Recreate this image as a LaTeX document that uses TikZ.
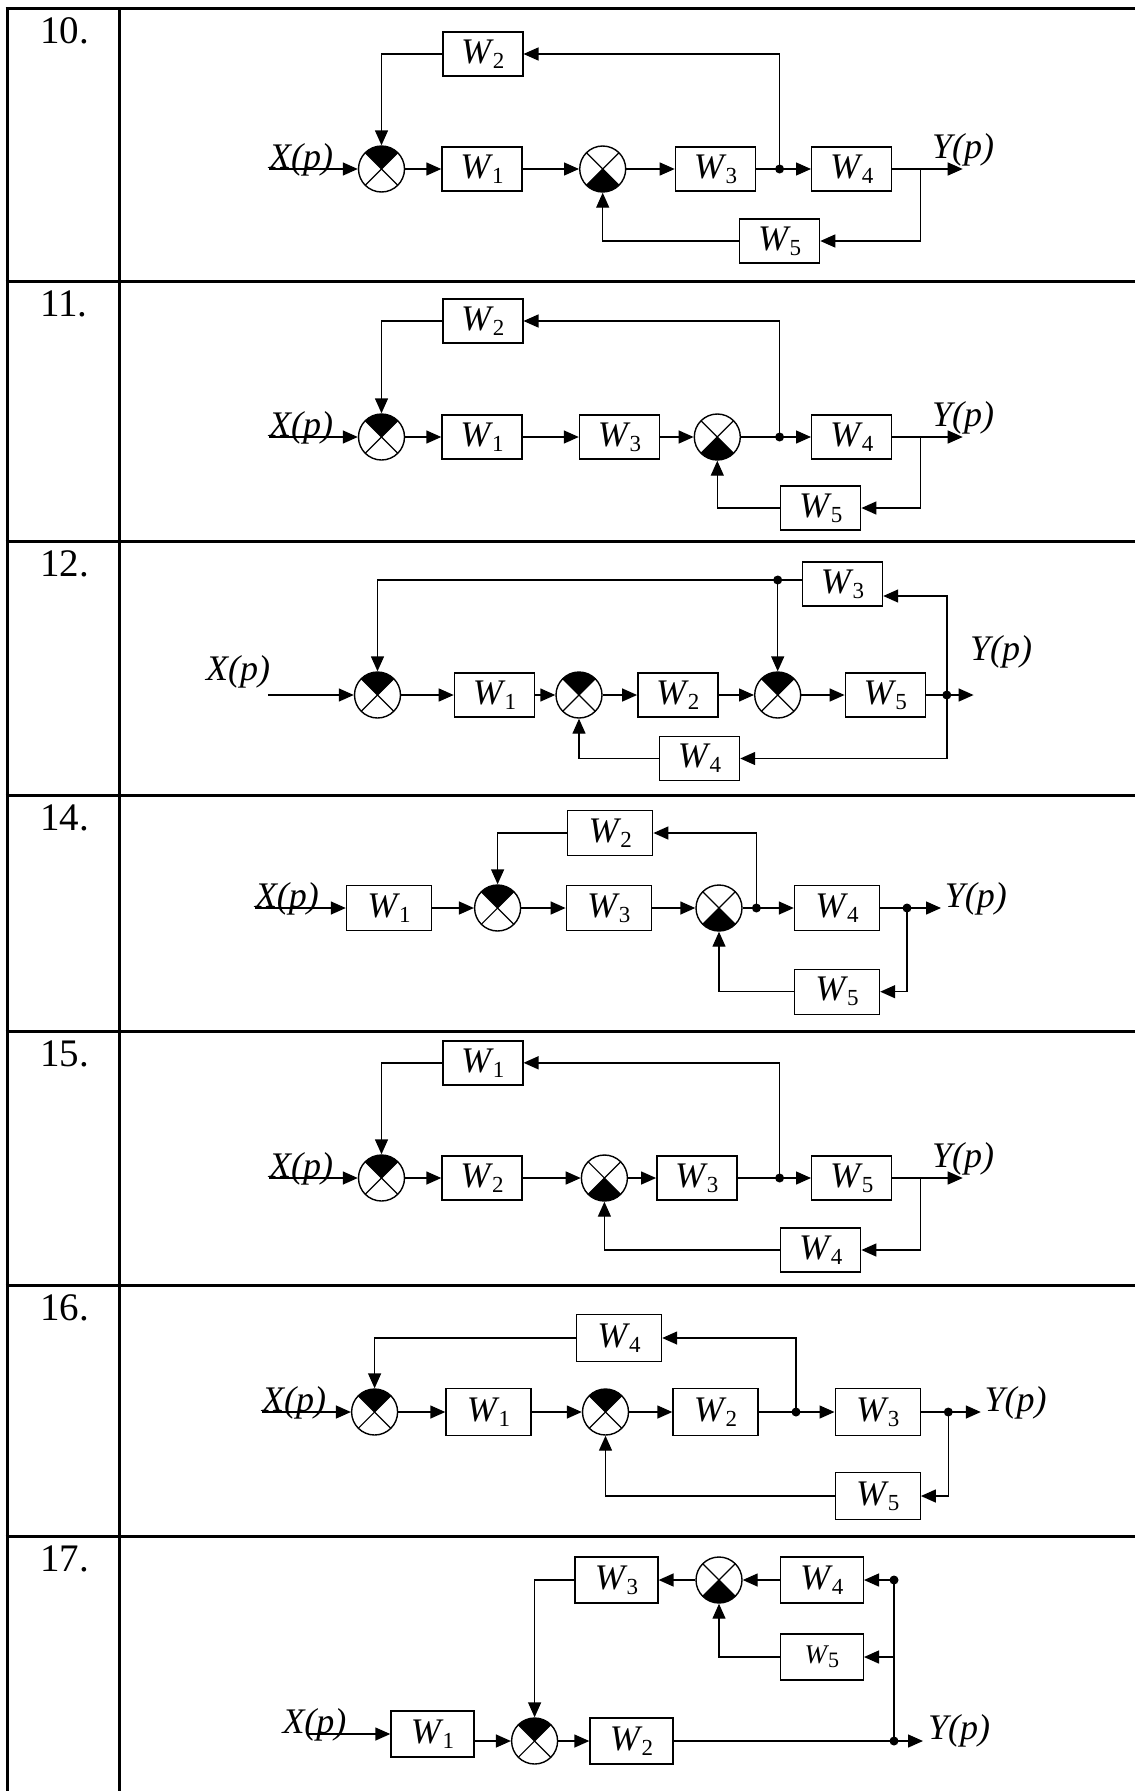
\documentclass[tikz,border=0pt]{standalone}
\usepackage{fontspec}
\setmainfont{Liberation Serif}
\usetikzlibrary{arrows.meta}
\newcommand{\Wl}[1]{\textit{W}\kern-1pt\raisebox{-5pt}{\fontsize{23}{23}\selectfont #1}}
\tikzset{
  ln/.style={line width=1.4pt},
  arr/.style={line width=1.4pt, -{Triangle[length=15pt,width=13pt]}},
  blk/.style={draw, line width=1.4pt, minimum width=80pt, minimum height=44pt, inner sep=0pt, font=\fontsize{36}{40}\selectfont},
  sumbase/.style={circle, draw, line width=1.4pt, minimum size=46pt, inner sep=0pt},
  sumt/.style={sumbase, path picture={
      \fill (path picture bounding box.center) -- +(45:60pt) -- +(135:60pt) -- cycle;
      \draw[line width=1.2pt] (path picture bounding box.center) ++(45:40pt) -- ++(225:80pt);
      \draw[line width=1.2pt] (path picture bounding box.center) ++(135:40pt) -- ++(315:80pt);}},
  sumb/.style={sumbase, path picture={
      \fill (path picture bounding box.center) -- +(225:60pt) -- +(315:60pt) -- cycle;
      \draw[line width=1.2pt] (path picture bounding box.center) ++(45:40pt) -- ++(225:80pt);
      \draw[line width=1.2pt] (path picture bounding box.center) ++(135:40pt) -- ++(315:80pt);}},
  dotn/.style={circle, fill, inner sep=0pt, minimum size=9pt},
  lbl/.style={font=\fontsize{36}{40}\selectfont\itshape, inner sep=0pt},
  num/.style={font=\fontsize{39}{40}\selectfont, inner sep=0pt, anchor=base west},
  frame/.style={line width=3pt},
}
\begin{document}
\begin{tikzpicture}[x=1pt,y=-1pt]
\useasboundingbox (0,0) rectangle (1135,1791);
% ---------- table ----------
\coordinate (tl) at (7,8);
\coordinate (bl) at (7,1791);
\coordinate (tm) at (119.5,8);
\coordinate (bm) at (119.5,1791);
\draw[frame] (tl) -- (bl);
\draw[frame] (tm) -- (bm);
\foreach \yy/\nm in {8/10, 281/11, 541/12, 795/14, 1031/15, 1285/16, 1536/17}{
  \draw[frame] (5.5,\yy) -- (1135,\yy);
  \node[num] (n\nm) at (40,\yy+35) {\nm.};
}
% ---------- 10 ----------
\coordinate (a-in) at (269,169);
\node[lbl, anchor=base west] (a-x) at (269,168) {X(p)};
\node[sumt] (a-s1) at (381.5,169) {};
\node[blk] (a-w1) at (482,169) {\Wl1};
\node[sumb] (a-s2) at (602.7,169) {};
\node[blk] (a-w3) at (715.4,169) {\Wl3};
\node[dotn] (a-d) at (779.6,169) {};
\node[blk] (a-w4) at (851.7,169) {\Wl4};
\coordinate (a-b) at (920.7,169);
\coordinate (a-out) at (962.7,169);
\node[lbl, anchor=base west] (a-y) at (932,158) {Y(p)};
\node[blk] (a-w2) at (482.8,54) {\Wl2};
\node[blk] (a-w5) at (779.6,241) {\Wl5};
\draw[arr] (a-in) -- (a-s1);
\draw[arr] (a-s1) -- (a-w1);
\draw[arr] (a-w1) -- (a-s2);
\draw[arr] (a-s2) -- (a-w3);
\draw[arr] (a-w3) -- (a-w4);
\draw[arr] (a-w4) -- (a-out);
\draw[arr] (a-d.center) |- (a-w2);
\draw[arr] (a-w2) -| (a-s1);
\draw[arr] (a-b) |- (a-w5);
\draw[arr] (a-w5) -| (a-s2);
% ---------- 11 ----------
\coordinate (b-in) at (269,437);
\node[lbl, anchor=base west] (b-x) at (269,436) {X(p)};
\node[sumt] (b-s1) at (381.5,437) {};
\node[blk] (b-w1) at (482,437) {\Wl1};
\node[blk] (b-w3) at (619.5,437) {\Wl3};
\node[sumb] (b-s2) at (717.3,437) {};
\node[dotn] (b-d) at (779.6,437) {};
\node[blk] (b-w4) at (851.7,437) {\Wl4};
\coordinate (b-b) at (920.7,437);
\coordinate (b-out) at (962.7,437);
\node[lbl, anchor=base west] (b-y) at (932,426) {Y(p)};
\node[blk] (b-w2) at (482.8,321) {\Wl2};
\node[blk] (b-w5) at (820.7,508) {\Wl5};
\draw[arr] (b-in) -- (b-s1);
\draw[arr] (b-s1) -- (b-w1);
\draw[arr] (b-w1) -- (b-w3);
\draw[arr] (b-w3) -- (b-s2);
\draw[arr] (b-s2) -- (b-w4);
\draw[arr] (b-w4) -- (b-out);
\draw[arr] (b-d.center) |- (b-w2);
\draw[arr] (b-w2) -| (b-s1);
\draw[arr] (b-b) |- (b-w5);
\draw[arr] (b-w5) -| (b-s2);
% ---------- 12 ----------
\coordinate (c-in) at (267.8,695);
\node[lbl, anchor=base west] (c-x) at (206,680) {X(p)};
\node[sumt] (c-s1) at (377.5,695) {};
\node[blk] (c-w1) at (494.4,695) {\Wl1};
\node[sumt] (c-s2) at (579,695) {};
\node[blk] (c-w2) at (677.8,695) {\Wl2};
\node[sumt] (c-s3) at (777.7,695) {};
\node[blk] (c-w5) at (885.3,695) {\Wl5};
\node[dotn] (c-d2) at (946.8,695) {};
\coordinate (c-out) at (973.6,695);
\node[lbl, anchor=base west] (c-y) at (970,660) {Y(p)};
\node[blk] (c-w3) at (842.5,584) {\Wl3};
\node[dotn] (c-d1) at (777.7,580) {};
\node[blk] (c-w4) at (699.5,758.5) {\Wl4};
\draw[arr] (c-in) -- (c-s1);
\draw[arr] (c-s1) -- (c-w1);
\draw[arr] (c-w1) -- (c-s2);
\draw[arr] (c-s2) -- (c-w2);
\draw[arr] (c-w2) -- (c-s3);
\draw[arr] (c-s3) -- (c-w5);
\draw[arr] (c-w5) -- (c-out);
\draw[arr] (c-d2.center) |- ([yshift=-12pt]c-w3.east);
\draw[arr] ([yshift=4pt]c-w3.west) -| (c-s1);
\draw[arr] (c-d1.center) -- (c-s3);
\draw[arr] (c-d2.center) |- (c-w4);
\draw[arr] (c-w4) -| (c-s2);
% ---------- 14 ----------
\begin{scope}[blk/.append style={minimum width=85pt, minimum height=45pt}]
\coordinate (d-in) at (254.8,908);
\node[lbl, anchor=base west] (d-x) at (254.8,907) {X(p)};
\node[blk] (d-w1) at (389,908) {\Wl1};
\node[sumt] (d-s1) at (497.6,908) {};
\node[blk] (d-w3) at (608.8,908) {\Wl3};
\node[sumb] (d-s2) at (719,908) {};
\node[dotn] (d-d1) at (756.4,908) {};
\node[blk] (d-w4) at (837,908) {\Wl4};
\node[dotn] (d-d2) at (907,908) {};
\coordinate (d-out) at (941,908);
\node[lbl, anchor=base west] (d-y) at (944.6,907) {Y(p)};
\node[blk] (d-w2) at (610.2,833) {\Wl2};
\node[blk] (d-w5) at (837,991.7) {\Wl5};
\draw[arr] (d-in) -- (d-w1);
\draw[arr] (d-w1) -- (d-s1);
\draw[arr] (d-s1) -- (d-w3);
\draw[arr] (d-w3) -- (d-s2);
\draw[arr] (d-s2) -- (d-w4);
\draw[arr] (d-w4) -- (d-out);
\draw[arr] (d-d1.center) |- (d-w2);
\draw[arr] (d-w2) -| (d-s1);
\draw[arr] (d-d2.center) |- (d-w5);
\draw[arr] (d-w5) -| (d-s2);
\end{scope}
% ---------- 15 ----------
\coordinate (e-in) at (269,1178);
\node[lbl, anchor=base west] (e-x) at (269,1177) {X(p)};
\node[sumt] (e-s1) at (381.5,1178) {};
\node[blk] (e-w2) at (482,1178) {\Wl2};
\node[sumb] (e-s2) at (604.4,1178) {};
\node[blk] (e-w3) at (696.8,1178) {\Wl3};
\node[dotn] (e-d) at (779.6,1178) {};
\node[blk] (e-w5) at (851.7,1178) {\Wl5};
\coordinate (e-b) at (920.7,1178);
\coordinate (e-out) at (962.7,1178);
\node[lbl, anchor=base west] (e-y) at (932,1167) {Y(p)};
\node[blk] (e-w1) at (482.8,1062.8) {\Wl1};
\node[blk] (e-w4) at (820.7,1250) {\Wl4};
\draw[arr] (e-in) -- (e-s1);
\draw[arr] (e-s1) -- (e-w2);
\draw[arr] (e-w2) -- (e-s2);
\draw[arr] (e-s2) -- (e-w3);
\draw[arr] (e-w3) -- (e-w5);
\draw[arr] (e-w5) -- (e-out);
\draw[arr] (e-d.center) |- (e-w1);
\draw[arr] (e-w1) -| (e-s1);
\draw[arr] (e-b) |- (e-w4);
\draw[arr] (e-w4) -| (e-s2);
% ---------- 16 ----------
\begin{scope}[blk/.append style={minimum width=85pt, minimum height=47pt}]
\coordinate (f-in) at (262,1412);
\node[lbl, anchor=base west] (f-x) at (262,1411) {X(p)};
\node[sumt] (f-s1) at (374.6,1412) {};
\node[blk] (f-w1) at (488.5,1412) {\Wl1};
\node[sumt] (f-s2) at (605.5,1412) {};
\node[blk] (f-w2) at (715.5,1412) {\Wl2};
\node[dotn] (f-d1) at (796,1412) {};
\node[blk] (f-w3) at (877.7,1412) {\Wl3};
\node[dotn] (f-d2) at (948.3,1412) {};
\coordinate (f-out) at (980.8,1412);
\node[lbl, anchor=base west] (f-y) at (984.5,1411) {Y(p)};
\node[blk] (f-w4) at (619,1338) {\Wl4};
\node[blk] (f-w5) at (877.7,1496) {\Wl5};
\draw[arr] (f-in) -- (f-s1);
\draw[arr] (f-s1) -- (f-w1);
\draw[arr] (f-w1) -- (f-s2);
\draw[arr] (f-s2) -- (f-w2);
\draw[arr] (f-w2) -- (f-w3);
\draw[arr] (f-w3) -- (f-out);
\draw[arr] (f-d1.center) |- (f-w4);
\draw[arr] (f-w4) -| (f-s1);
\draw[arr] (f-d2.center) |- (f-w5);
\draw[arr] (f-w5) -| (f-s2);
\end{scope}
% ---------- 17 ----------
\begin{scope}[blk/.append style={minimum width=83pt, minimum height=46pt}]
\coordinate (g-in) at (307.6,1734);
\node[lbl, anchor=base west] (g-x) at (282.3,1733) {X(p)};
\node[blk] (g-w1) at (432.5,1734) {\Wl1};
\node[sumt] (g-s1) at (534.6,1741) {};
\node[blk] (g-w2) at (631.5,1741) {\Wl2};
\node[dotn] (g-d1) at (894,1741) {};
\coordinate (g-out) at (923,1741);
\node[lbl, anchor=base west] (g-y) at (928,1739) {Y(p)};
\node[dotn] (g-d2) at (894,1580) {};
\node[blk] (g-w4) at (821.8,1580) {\Wl4};
\node[sumb] (g-s2) at (719,1580) {};
\node[blk] (g-w3) at (616.4,1580) {\Wl3};
\node[blk, font=\fontsize{27}{28}\selectfont] (g-w5) at (821.8,1657) {\textit{W}\kern-1pt\raisebox{-4pt}{\fontsize{22}{22}\selectfont 5}};
\draw[arr] (g-in) -- (g-w1);
\draw[arr] (g-w1.east |- g-s1) -- (g-s1);
\draw[arr] (g-s1) -- (g-w2);
\draw[arr] (g-w2) -- (g-out);
\draw[ln] (g-d1.center) -- (g-d2.center);
\draw[arr] (g-d2.center) -- (g-w4);
\draw[arr] (g-w4) -- (g-s2);
\draw[arr] (g-s2) -- (g-w3);
\draw[arr] (g-w3) -| (g-s1);
\draw[arr] (g-d1 |- g-w5) -- (g-w5);
\draw[arr] (g-w5) -| (g-s2);
\end{scope}
\end{tikzpicture}
\end{document}
